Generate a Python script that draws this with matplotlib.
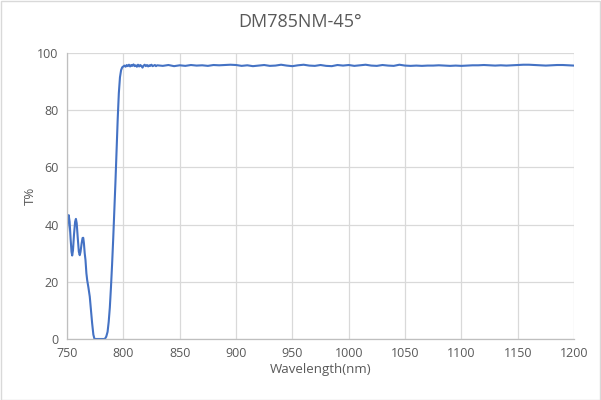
import matplotlib
matplotlib.use("Agg")
import matplotlib.pyplot as plt

title = "DM785NM-45°"
x_label = "Wavelength(nm)"
y_label = "T%"
x_ticks = [750, 800, 850, 900, 950, 1000, 1050, 1100, 1150, 1200]
y_ticks = [0, 20, 40, 60, 80, 100]

wl_edge = [750, 750.7, 751.5, 752.3, 753.2, 754, 754.6, 755.3, 756.2, 757.2, 757.9,
           758.6, 759.5, 760.5, 761.3, 762, 763, 763.8, 764.4, 765, 765.7, 766.4,
           767.2, 767.9, 769, 770.2, 771.3, 772.3, 773.4, 774.4, 776, 780, 783.5,
           784.8, 786, 787, 788, 789, 790, 791, 792, 793, 794, 795, 796, 797, 798,
           799, 800]
t_edge = [37.5, 41.5, 43.3, 41, 35, 30.5, 29.2, 31, 36.5, 41, 42,
          40.5, 35.5, 30.5, 29.3, 30.5, 33.5, 35.3, 35.4, 33.5, 30, 27.6,
          23, 20.6, 18, 14.8, 10, 5.5, 1.5, 0, 0, 0, 0,
          0.8, 2.5, 6, 11, 18, 26, 35, 45, 55, 66, 77, 86, 91.5, 94,
          95, 95.3]

wl_noise = [801, 802, 803, 804, 805, 806, 807, 808, 809, 810, 811, 812, 813, 814,
            815, 816, 817, 818, 819, 820, 821, 822, 823, 824, 825, 826, 827, 828,
            829, 830]
t_noise = [95.6, 95.2, 95.8, 95.4, 95.9, 95.3, 95.8, 95.5, 96.0, 95.4, 95.7, 95.2,
           95.9, 95.3, 95.8, 95.5, 94.9, 95.6, 95.9, 95.4, 95.8, 95.3, 95.7, 95.5,
           95.9, 95.4, 95.6, 95.8, 95.4, 95.7]

wl_plateau = [835, 840, 845, 850, 855, 860, 865, 870, 875, 880, 885, 890, 895, 900,
              905, 910, 915, 920, 925, 930, 935, 940, 945, 950, 955, 960, 965, 970,
              975, 980, 985, 990, 995, 1000, 1005, 1010, 1015, 1020, 1025, 1030,
              1035, 1040, 1045, 1050, 1055, 1060, 1065, 1070, 1075, 1080, 1085,
              1090, 1095, 1100, 1105, 1110, 1115, 1120, 1125, 1130, 1135, 1140,
              1145, 1150, 1155, 1160, 1165, 1170, 1175, 1180, 1185, 1190, 1195, 1200]
t_plateau = [95.5, 95.8, 95.4, 95.7, 95.5, 95.8, 95.6, 95.7, 95.5, 95.8, 95.7, 95.8,
             95.9, 95.8, 95.5, 95.7, 95.4, 95.6, 95.8, 95.5, 95.6, 95.9, 95.6, 95.4,
             95.7, 95.9, 95.6, 95.5, 95.8, 95.5, 95.4, 95.8, 95.6, 95.8, 95.5, 95.7,
             95.9, 95.6, 95.5, 95.8, 95.6, 95.5, 95.9, 95.6, 95.5, 95.6, 95.5, 95.6,
             95.6, 95.7, 95.6, 95.5, 95.6, 95.5, 95.6, 95.7, 95.7, 95.8, 95.7, 95.6,
             95.7, 95.6, 95.7, 95.8, 95.9, 95.9, 95.8, 95.7, 95.6, 95.7, 95.8, 95.8,
             95.7, 95.6]

wl = wl_edge + wl_noise + wl_plateau
t = t_edge + t_noise + t_plateau

plt.rcParams['font.family'] = ['Open Sans', 'DejaVu Sans']
fig = plt.figure(figsize=(6.01, 4.00), dpi=100)
fig.patches.append(plt.Rectangle((0.001, 0.001), 0.997, 0.996, transform=fig.transFigure,
                                 fill=False, edgecolor='#d9d9d9', linewidth=1))
ax = fig.add_axes([0.1115, 0.1525, 0.8436, 0.715])
ax.plot(wl, t, color='#4472c4', linewidth=1.5, solid_joinstyle='round')
ax.set_xlim(750, 1200)
ax.set_ylim(0, 100)
ax.set_xticks(x_ticks)
ax.set_yticks(y_ticks)
ax.grid(True, color='#d9d9d9', linewidth=0.9)
ax.set_axisbelow(True)
for s in ['top', 'right']:
    ax.spines[s].set_visible(False)
for s in ['left', 'bottom']:
    ax.spines[s].set_color('#bfbfbf')
    ax.spines[s].set_linewidth(0.9)
ax.tick_params(length=0, colors='#595959', labelsize=9, pad=6)
ax.set_xlabel(x_label, color='#595959', fontsize=9.5, labelpad=2)
ax.set_ylabel(y_label, color='#595959', fontsize=9.5, labelpad=0)
fig.text(0.5, 0.945, title, ha='center', va='center', fontsize=13, color='#595959')
fig.savefig('out.png', dpi=100)
